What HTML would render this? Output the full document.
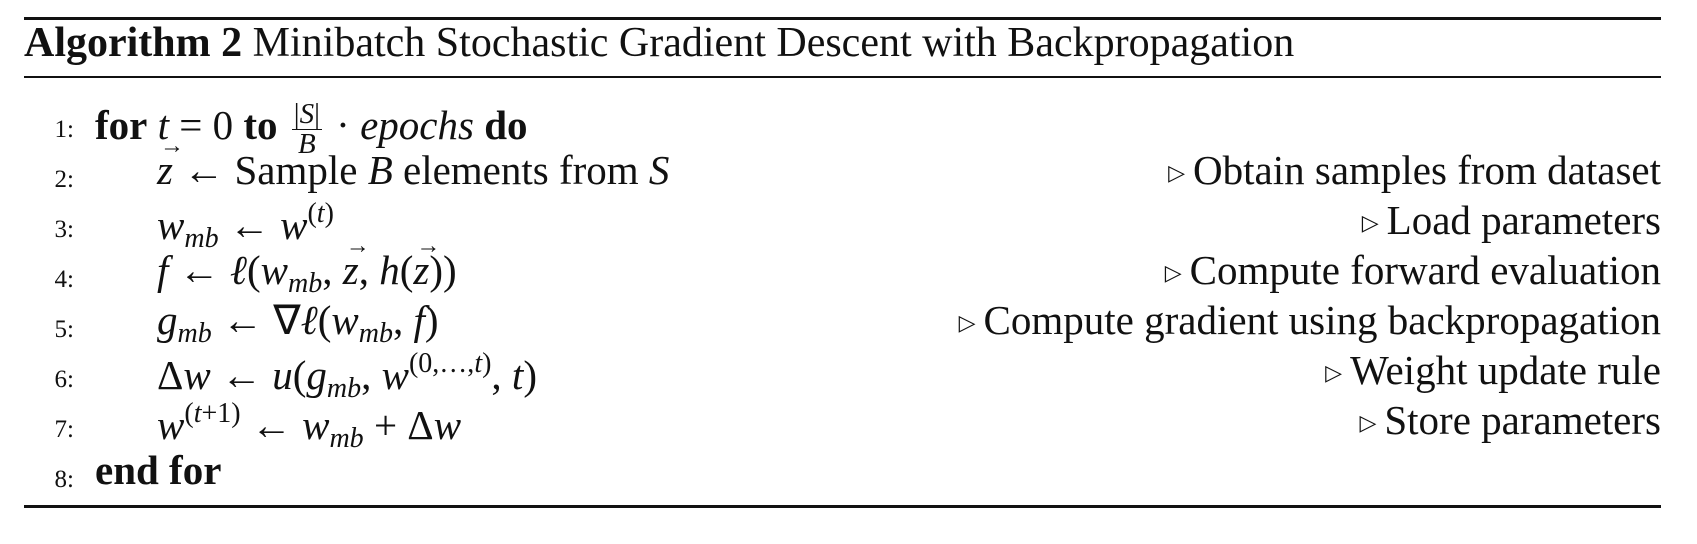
<!DOCTYPE html>
<html><head><meta charset="utf-8"><style>
body{margin:0;background:#fff;width:1697px;height:544px;overflow:hidden;position:relative;font-family:"Liberation Serif",serif;color:#111}
.rule{position:absolute;left:24px;width:1637px;background:#111}
.ln{position:absolute;left:30px;width:44px;text-align:right;font-size:25px;line-height:1}
.code{position:absolute;font-size:41px;line-height:1;white-space:nowrap}
.cm{position:absolute;right:36px;font-size:41px;line-height:1;white-space:nowrap;text-align:right}
i{font-style:italic}
sub{font-size:28px;vertical-align:-8px;font-style:italic}
sup{font-size:28px;vertical-align:17px}
.tri{font-size:22px;vertical-align:4px;margin-right:8px}
.frac{display:inline-block;vertical-align:-14px;text-align:center;font-size:29px;line-height:1.0;margin:0 4px}
.frac span{display:block}
.frac .num{border-bottom:1.5px solid #111;padding:0 2px}
.vec{position:relative;display:inline-block;font-style:italic}
.vec::before{content:"\2192";position:absolute;left:3px;top:-16px;font-size:24px;font-style:normal}
</style></head><body>
<div class="rule" style="top:17px;height:3px"></div>
<div class="code" style="left:24px;top:22px;font-size:42px"><b>Algorithm 2</b> Minibatch Stochastic Gradient Descent with Backpropagation</div>
<div class="rule" style="top:76px;height:1.5px"></div>

<div class="ln" style="top:117px">1:</div>
<div class="code" style="left:95px;top:100px"><b>for</b> <i>t</i> = 0 <b>to</b> <span class="frac"><span class="num">|<i>S</i>|</span><span><i>B</i></span></span> · <i>epochs</i> <b>do</b></div>

<div class="ln" style="top:167px">2:</div>
<div class="code" style="left:157px;top:150px"><span class="vec">z</span> ← Sample <i>B</i> elements from <i>S</i></div>
<div class="cm" style="top:150px"><span class="tri">▷</span>Obtain samples from dataset</div>

<div class="ln" style="top:217px">3:</div>
<div class="code" style="left:157px;top:200px"><i>w</i><sub>mb</sub> ← <i>w</i><sup>(<i>t</i>)</sup></div>
<div class="cm" style="top:200px"><span class="tri">▷</span>Load parameters</div>

<div class="ln" style="top:267px">4:</div>
<div class="code" style="left:157px;top:250px"><i>f</i> ← <i>ℓ</i>(<i>w</i><sub>mb</sub>, <span class="vec">z</span>, <i>h</i>(<span class="vec">z</span>))</div>
<div class="cm" style="top:250px"><span class="tri">▷</span>Compute forward evaluation</div>

<div class="ln" style="top:317px">5:</div>
<div class="code" style="left:157px;top:300px"><i>g</i><sub>mb</sub> ← ∇<i>ℓ</i>(<i>w</i><sub>mb</sub>, <i>f</i>)</div>
<div class="cm" style="top:300px"><span class="tri">▷</span>Compute gradient using backpropagation</div>

<div class="ln" style="top:367px">6:</div>
<div class="code" style="left:157px;top:350px">Δ<i>w</i> ← <i>u</i>(<i>g</i><sub>mb</sub>, <i>w</i><sup>(0,…,<i>t</i>)</sup>, <i>t</i>)</div>
<div class="cm" style="top:350px"><span class="tri">▷</span>Weight update rule</div>

<div class="ln" style="top:417px">7:</div>
<div class="code" style="left:157px;top:400px"><i>w</i><sup>(<i>t</i>+1)</sup> ← <i>w</i><sub>mb</sub> + Δ<i>w</i></div>
<div class="cm" style="top:400px"><span class="tri">▷</span>Store parameters</div>

<div class="ln" style="top:467px">8:</div>
<div class="code" style="left:95px;top:450px"><b>end for</b></div>

<div class="rule" style="top:505px;height:3px"></div>
</body></html>
